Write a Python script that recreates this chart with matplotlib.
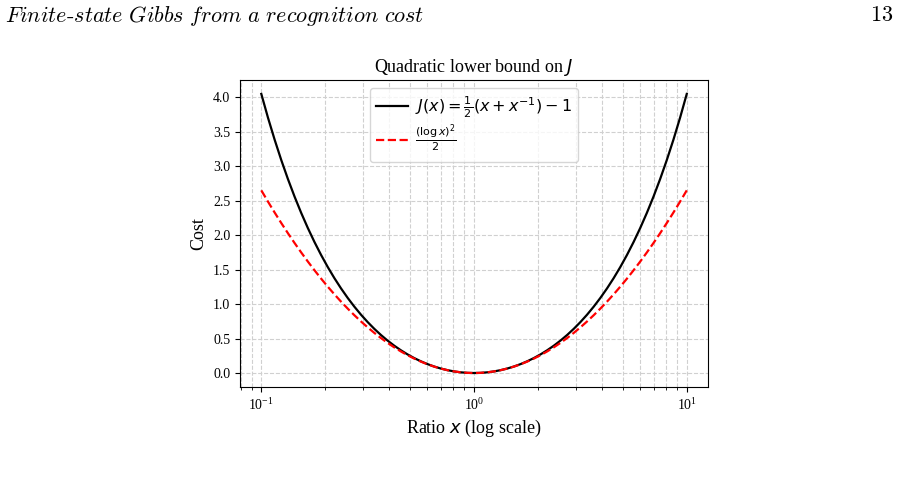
import matplotlib
matplotlib.use("Agg")
import matplotlib.pyplot as plt

# ratio x, sampled every 1/32 decade from 0.1 to 10
ratio = [0.1, 0.10746, 0.11548, 0.12409, 0.13335, 0.14330, 0.15399, 0.16548,
         0.17783, 0.19110, 0.20535, 0.22067, 0.23714, 0.25483, 0.27384, 0.29427,
         0.31623, 0.33982, 0.36517, 0.39242, 0.42170, 0.45316, 0.48697, 0.52330,
         0.56234, 0.60429, 0.64938, 0.69783, 0.74989, 0.80584, 0.86596, 0.93057,
         1.0,
         1.07461, 1.15478, 1.24094, 1.33352, 1.43301, 1.53993, 1.65484, 1.77828,
         1.91095, 2.05353, 2.20673, 2.37137, 2.54830, 2.73842, 2.94273, 3.16228,
         3.39821, 3.65174, 3.92419, 4.21697, 4.53158, 4.86968, 5.23300, 5.62341,
         6.04296, 6.49382, 6.97831, 7.49894, 8.05842, 8.65964, 9.30573, 10.0]

# J(x), from x = 1 up to x = 10 (symmetric in log x)
j_half = [0.0, 0.00259, 0.01037, 0.02339, 0.04171, 0.06542, 0.09465, 0.12956,
          0.17031, 0.21713, 0.27025, 0.32995, 0.39654, 0.47036, 0.55180, 0.64128,
          0.73926, 0.84624, 0.96279, 1.08951, 1.22706, 1.37613, 1.53752, 1.71205,
          1.90062, 2.10422, 2.32391, 2.56080, 2.81615, 3.09126, 3.38756, 3.70660,
          4.05]
# (log x)^2 / 2
q_half = [0.0, 0.00259, 0.01036, 0.02330, 0.04142, 0.06472, 0.09320, 0.12685,
          0.16568, 0.20970, 0.25888, 0.31325, 0.37279, 0.43751, 0.50741, 0.58249,
          0.66274, 0.74817, 0.83878, 0.93457, 1.03553, 1.14167, 1.25299, 1.36949,
          1.49116, 1.61801, 1.75004, 1.88725, 2.02964, 2.17720, 2.32994, 2.48786,
          2.65095]

cost_j = j_half[::-1] + j_half[1:]
cost_q = q_half[::-1] + q_half[1:]

plt.rcParams['font.family'] = ['Liberation Serif', 'DejaVu Sans']
plt.rcParams['mathtext.fontset'] = 'dejavusans'

fig = plt.figure(figsize=(9, 4.78), dpi=100)
ax = fig.add_axes([0.2667, 0.1904, 0.52, 0.6423])

ax.plot(ratio, cost_j, color='black', lw=1.6,
        label=r'$J(x) = \frac{1}{2}(x + x^{-1}) - 1$')
ax.plot(ratio, cost_q, color='red', lw=1.6, ls='--',
        label=r'$\frac{(\log x)^2}{2}$')
ax.set_xscale('log')
ax.grid(True, which='both', ls='--', color='#d0d0d0', lw=0.8)
ax.set_axisbelow(True)
ax.set_title(r'Quadratic lower bound on $J$', fontsize=13)
ax.set_xlabel(r'Ratio $x$ (log scale)', fontsize=13)
ax.set_ylabel('Cost', fontsize=13)
ax.tick_params(labelsize=10)
ax.legend(loc='upper center', fontsize=11.5, framealpha=0.8,
          labelspacing=0.2, handletextpad=0.4)

# page header of the paper
fig.text(0.006, 0.966, r'$\mathit{Finite}\text{-}\mathit{state\ Gibbs\ from\ a\ recognition\ cost}$',
         fontsize=16, math_fontfamily='cm', va='center', ha='left')
fig.text(0.993, 0.966, r'$\mathrm{13}$', fontsize=16, math_fontfamily='cm',
         va='center', ha='right')

fig.savefig('out.png', dpi=100)
